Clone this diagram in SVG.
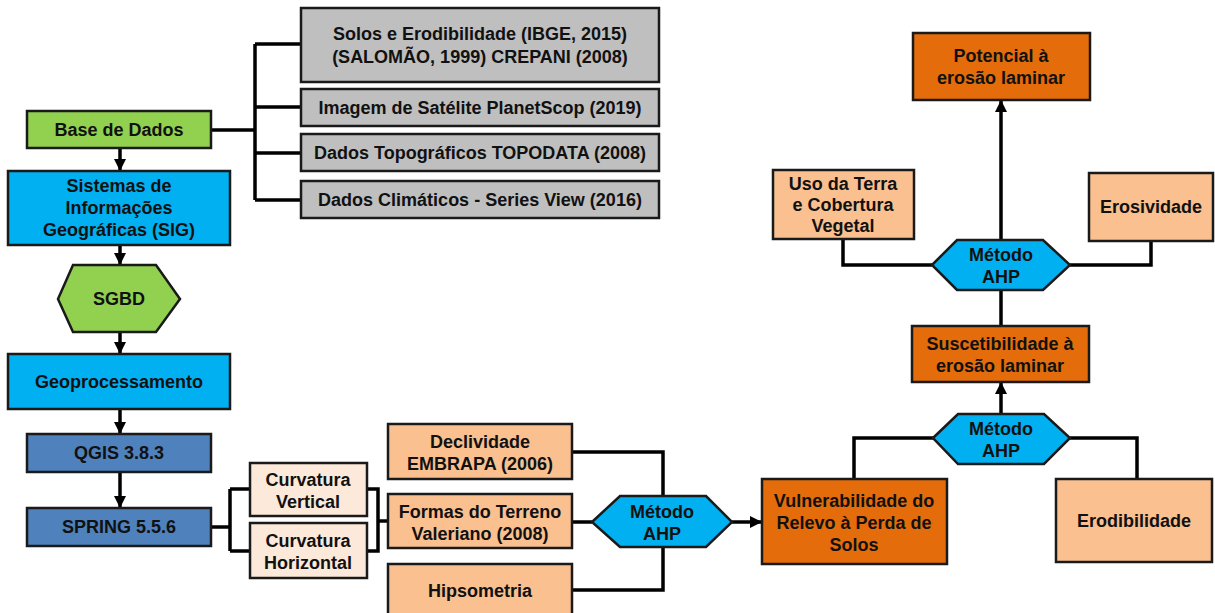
<svg xmlns="http://www.w3.org/2000/svg" width="1215" height="613" viewBox="0 0 1215 613">
<defs>
<marker id="ah" markerUnits="userSpaceOnUse" markerWidth="12" markerHeight="12" refX="11" refY="6" orient="auto">
<path d="M0,0 L12,6 L0,12 Z" fill="#000"/>
</marker>
<style>
.b{stroke:#1a1a1a;stroke-width:2.5}
.gr{fill:#92D050}.bl{fill:#00B0F0}.db{fill:#4F81BD}.gy{fill:#BFBFBF}
.lt{fill:#FDE9D9}.pe{fill:#FAC090}.or{fill:#E46C0A}
text{font-family:"Liberation Sans",Arial,sans-serif;font-weight:bold;font-size:18px;fill:#111;text-anchor:middle}
.c{fill:none;stroke:#000;stroke-width:3.5}
</style>
</defs>
<rect width="1215" height="613" fill="#fff"/>
<g id="connectors">
<path class="c" d="M120,148 V170" marker-end="url(#ah)"/>
<path class="c" d="M120,245 V264" marker-end="url(#ah)"/>
<path class="c" d="M120,332 V353" marker-end="url(#ah)"/>
<path class="c" d="M120,409 V433" marker-end="url(#ah)"/>
<path class="c" d="M120,472 V507" marker-end="url(#ah)"/>
<path class="c" d="M211,130 H255 M255,44 V200 M255,44 H301 M255,107 H301 M255,153 H301 M255,200 H301"/>
<path class="c" d="M211,527 H230 M230,489 V551 M230,489 H250 M230,551 H250"/>
<path class="c" d="M367,489 H378 V551 H367 M378,521 H388"/>
<path class="c" d="M572,452 H663 V496 M572,590 H663 V547 M572,522 H592"/>
<path class="c" d="M732,522 H761" marker-end="url(#ah)"/>
<path class="c" d="M854,479 V438 H933 M1137,479 V438 H1070"/>
<path class="c" d="M1001,414 V383" marker-end="url(#ah)"/>
<path class="c" d="M1001,290 V326"/>
<path class="c" d="M1001,240 V101" marker-end="url(#ah)"/>
<path class="c" d="M843,239 V265 H932 M1151,241 V265 H1070"/>
</g>
<g id="base"><rect class="b gr" x="27" y="111" width="184" height="37"/><text x="119" y="136">Base de Dados</text></g>
<g id="sig"><rect class="b bl" x="8" y="171" width="222" height="74"/><text x="119" y="192">Sistemas de</text><text x="119" y="214">Informações</text><text x="119" y="236">Geográficas (SIG)</text></g>
<g id="sgbd"><polygon class="b gr" points="58,299 73,265 156,265 180,299 156,332 73,332"/><text x="119" y="305">SGBD</text></g>
<g id="geo"><rect class="b bl" x="8" y="354" width="222" height="55"/><text x="119" y="388">Geoprocessamento</text></g>
<g id="qgis"><rect class="b db" x="27" y="434" width="184" height="38"/><text x="119" y="459">QGIS 3.8.3</text></g>
<g id="spring"><rect class="b db" x="27" y="508" width="184" height="38"/><text x="119" y="533">SPRING 5.5.6</text></g>
<g id="curvV"><rect class="b lt" x="250" y="463" width="117" height="53"/><text x="308" y="486">Curvatura</text><text x="308" y="508">Vertical</text></g>
<g id="curvH"><rect class="b lt" x="250" y="523" width="117" height="55"/><text x="308" y="547">Curvatura</text><text x="308" y="569">Horizontal</text></g>
<g id="gray1"><rect class="b gy" x="301" y="8" width="358" height="74"/><text x="480" y="40">Solos e Erodibilidade (IBGE, 2015)</text><text x="480" y="63">(SALOMÃO, 1999) CREPANI (2008)</text></g>
<g id="gray2"><rect class="b gy" x="301" y="89" width="358" height="37"/><text x="480" y="114">Imagem de Satélite PlanetScop (2019)</text></g>
<g id="gray3"><rect class="b gy" x="301" y="134" width="358" height="37"/><text x="480" y="159">Dados Topográficos TOPODATA (2008)</text></g>
<g id="gray4"><rect class="b gy" x="301" y="181" width="358" height="37"/><text x="480" y="206">Dados Climáticos - Series View (2016)</text></g>
<g id="decl"><rect class="b pe" x="388" y="424" width="184" height="55"/><text x="480" y="448">Declividade</text><text x="480" y="470">EMBRAPA (2006)</text></g>
<g id="formas"><rect class="b pe" x="388" y="494" width="184" height="54"/><text x="480" y="518">Formas do Terreno</text><text x="480" y="540">Valeriano (2008)</text></g>
<g id="hips"><rect class="b pe" x="388" y="564" width="184" height="60"/><text x="480" y="597">Hipsometria</text></g>
<g id="ahp1"><polygon class="b bl" points="592,522 620,496 706,496 732,522 706,547 620,547"/><text x="662" y="518">Método</text><text x="662" y="540">AHP</text></g>
<g id="vuln"><rect class="b or" x="762" y="479" width="185" height="85"/><text x="854" y="507">Vulnerabilidade do</text><text x="854" y="529">Relevo à Perda de</text><text x="854" y="551">Solos</text></g>
<g id="ahp2"><polygon class="b bl" points="933,438 958,414 1044,414 1070,438 1044,464 958,464"/><text x="1001" y="435">Método</text><text x="1001" y="457">AHP</text></g>
<g id="erod"><rect class="b pe" x="1056" y="479" width="156" height="83"/><text x="1134" y="527">Erodibilidade</text></g>
<g id="susc"><rect class="b or" x="912" y="326" width="177" height="56"/><text x="1000" y="350">Suscetibilidade à</text><text x="1000" y="372">erosão laminar</text></g>
<g id="ahp3"><polygon class="b bl" points="932,265 957,240 1043,240 1070,265 1043,290 957,290"/><text x="1001" y="261">Método</text><text x="1001" y="283">AHP</text></g>
<g id="uso"><rect class="b pe" x="773" y="170" width="141" height="69"/><text x="843" y="190">Uso da Terra</text><text x="843" y="211">e Cobertura</text><text x="843" y="232">Vegetal</text></g>
<g id="erosiv"><rect class="b pe" x="1089" y="173" width="124" height="68"/><text x="1151" y="213">Erosividade</text></g>
<g id="pot"><rect class="b or" x="913" y="33" width="177" height="67"/><text x="1001" y="62">Potencial à</text><text x="1001" y="84">erosão laminar</text></g>
</svg>
